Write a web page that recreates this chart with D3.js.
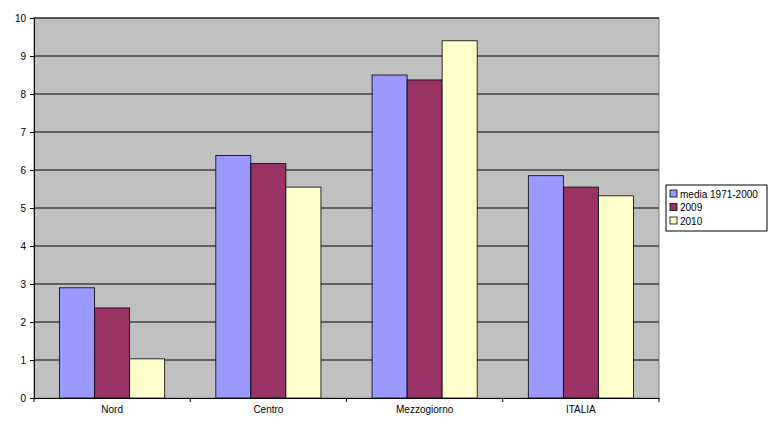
<!DOCTYPE html>
<html><head><meta charset="utf-8">
<script src="https://cdn.jsdelivr.net/npm/d3@7"></script>
<style>body{margin:0;background:#fff}</style>
</head><body>
<svg id="chart" width="769" height="427"></svg>
<script>
const categories = ["Nord", "Centro", "Mezzogiorno", "ITALIA"];
const seriesNames = ["media 1971-2000", "2009", "2010"];
const media = [2.9, 6.38, 8.5, 5.85];
const y2009 = [2.37, 6.17, 8.37, 5.55];
const y2010 = [1.03, 5.55, 9.4, 5.32];
const yTicks = [0, 1, 2, 3, 4, 5, 6, 7, 8, 9, 10];
const colors = ["#9999ff", "#993366", "#ffffcc"];
const series = [media, y2009, y2010];

const svg = d3.select("#chart");
const mLeft = 34, mRight = 659, mTop = 18, mBottom = 398;
const font = "Liberation Sans, Arial, sans-serif";

const x = d3.scaleBand().domain(categories).range([mLeft, mRight]);
const xs = d3.scaleBand().domain(d3.range(3)).range([0, x.bandwidth()]).paddingOuter(0.73);
const y = d3.scaleLinear().domain([0, 10]).range([mBottom, mTop]);

svg.append("rect").attr("x", mLeft).attr("y", mTop)
  .attr("width", mRight - mLeft).attr("height", mBottom - mTop)
  .attr("fill", "#c0c0c0").attr("stroke", "#808080");

// griglia
svg.append("g").selectAll("line").data(yTicks.slice(1)).join("line")
  .attr("x1", mLeft).attr("x2", mRight)
  .attr("y1", d => y(d)).attr("y2", d => y(d))
  .attr("stroke", "#000").attr("stroke-width", 1);

// barre
series.forEach((vals, i) => {
  svg.append("g").selectAll("rect").data(categories).join("rect")
    .attr("x", c => x(c) + xs(i))
    .attr("y", (c, j) => y(vals[j]))
    .attr("width", xs.bandwidth())
    .attr("height", (c, j) => mBottom - y(vals[j]))
    .attr("fill", colors[i]).attr("stroke", "#000").attr("stroke-width", 0.8);
});

// assi
const yAxis = svg.append("g").attr("transform", `translate(${mLeft},0)`)
  .call(d3.axisLeft(y).tickValues(yTicks).tickSize(4).tickPadding(4));
const xAxis = svg.append("g").attr("transform", `translate(0,${mBottom})`)
  .call(d3.axisBottom(x).tickSize(0).tickPadding(8));
svg.append("g").attr("transform", `translate(0,${mBottom})`)
  .selectAll("line").data(categories.concat(["end"])).join("line")
  .attr("x1", (d, i) => mLeft + i * x.step()).attr("x2", (d, i) => mLeft + i * x.step())
  .attr("y1", 0).attr("y2", 4).attr("stroke", "#000");
[yAxis, xAxis].forEach(a => {
  a.selectAll("text").attr("font-family", font).attr("font-size", 10).attr("fill", "#000");
  a.select(".domain").attr("stroke", "#000");
});

// legenda
const lg = svg.append("g");
lg.append("rect").attr("x", 666).attr("y", 185).attr("width", 101).attr("height", 46)
  .attr("fill", "#fff").attr("stroke", "#000");
seriesNames.forEach((n, i) => {
  lg.append("rect").attr("x", 670).attr("y", 190 + i * 13.5).attr("width", 7).attr("height", 7)
    .attr("fill", colors[i]).attr("stroke", "#000").attr("stroke-width", 0.8);
  lg.append("text").attr("x", 680).attr("y", 197.5 + i * 13.5)
    .attr("font-family", font).attr("font-size", 10).text(n);
});
</script>
</body></html>
